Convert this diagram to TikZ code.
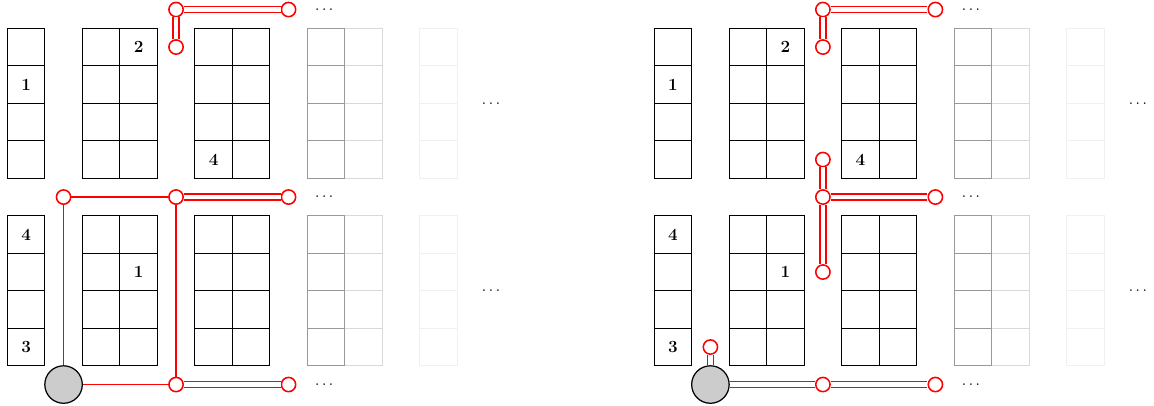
\documentclass[tikz,border=0pt]{standalone}
\begin{document}
\begin{tikzpicture}[x=0.85cm,y=0.85cm,
  cellline/.style={line width=0.6pt},
  rnode/.style={circle, draw=red, fill=white, line width=1pt, minimum size=9.2pt, inner sep=0pt},
  gnode/.style={circle, draw=black, fill=black!20, line width=0.8pt, minimum size=0.85cm, inner sep=0pt},
  srail/.style={draw=red, line width=1pt},
  drail/.style={draw=red, line width=1pt, double=white, double distance=2.8pt},
  num/.style={font=\fontsize{11}{13}\selectfont\bfseries, inner sep=0pt},
  dotsnode/.style={inner sep=0pt, yshift=-2.5pt}]
\useasboundingbox (-0.195,-10.07) rectangle (30.58,0.755);
\foreach \p/\dx in {L/0, R/17.25}{
\begin{scope}[xshift=\dx*0.85cm]
  \foreach \y in {0,-5}{
    \foreach \r in {1,...,4}{
      \foreach \c in {0,2,3,5,6}{
        \draw[cellline] (\c,\y-\r) rectangle ++(1,1);
      }
      \draw[cellline, black!15] (9,\y-\r) rectangle ++(1,1);
      \draw[cellline, black!40] (8,\y-\r) rectangle ++(1,1);
      \draw[cellline, black!6] (11,\y-\r) rectangle ++(1,1);
    }
  }
  \node[num] (\p-n1a) at (0.5,-1.5) {1};
  \node[num] (\p-n2a) at (3.5,-0.5) {2};
  \node[num] (\p-n4a) at (5.5,-3.5) {4};
  \node[num] (\p-n4b) at (0.5,-5.5) {4};
  \node[num] (\p-n3b) at (0.5,-8.5) {3};
  \node[num] (\p-n1b) at (3.5,-6.5) {1};
  \node[dotsnode] (\p-d1) at (8.45,0.5) {$\smash{\cdots}$};
  \node[dotsnode] (\p-d2) at (8.45,-4.5) {$\smash{\cdots}$};
  \node[dotsnode] (\p-d3) at (8.45,-9.5) {$\smash{\cdots}$};
  \node[dotsnode] (\p-d4) at (12.9,-2) {$\smash{\cdots}$};
  \node[dotsnode] (\p-d5) at (12.9,-7) {$\smash{\cdots}$};
  \node[rnode] (\p-t1) at (4.5,0.5) {};
  \node[rnode] (\p-t2) at (7.5,0.5) {};
  \node[rnode] (\p-t0) at (4.5,-0.5) {};
  \node[rnode] (\p-m1) at (4.5,-4.5) {};
  \node[rnode] (\p-m2) at (7.5,-4.5) {};
  \node[gnode] (\p-g) at (1.5,-9.5) {};
  \node[rnode] (\p-b1) at (4.5,-9.5) {};
  \node[rnode] (\p-b2) at (7.5,-9.5) {};
  \draw[drail] (\p-t1) -- (\p-t2);
  \draw[drail] (\p-t1) -- (\p-t0);
  \draw[drail] (\p-m1) -- (\p-m2);
  \draw[drail] (\p-b1) -- (\p-b2);
\end{scope}
}
% left panel specifics
\node[rnode] (L-m0) at (1.5,-4.5) {};
\draw[srail] (L-m0) -- (L-m1);
\draw[srail] (L-m0) -- (L-g);
\draw[srail] (L-m1) -- (L-b1);
\draw[srail] (L-g) -- (L-b1);
% right panel specifics
\begin{scope}[xshift=17.25*0.85cm]
\node[rnode] (R-mu) at (4.5,-3.5) {};
\node[rnode] (R-md) at (4.5,-6.5) {};
\node[rnode] (R-gu) at (1.5,-8.5) {};
\end{scope}
\draw[drail] (R-mu) -- (R-m1);
\draw[drail] (R-m1) -- (R-md);
\draw[drail] (R-g) -- (R-b1);
\draw[drail] (R-g) -- (R-gu);
\end{tikzpicture}
\end{document}
